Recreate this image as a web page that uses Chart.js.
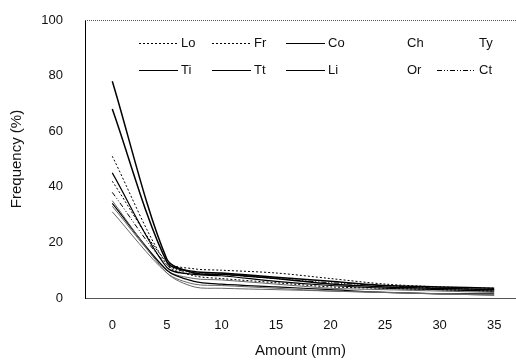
<!DOCTYPE html>
<html lang="en">
<head>
<meta charset="UTF-8">
<title>Frequency</title>
<script src="https://cdn.jsdelivr.net/npm/chart.js@4.4.1/dist/chart.umd.min.js"></script>
<style>
  body { margin: 0; background: #fff; }
  #wrap { width: 516px; height: 360px; }
</style>
</head>
<body>
<div id="wrap"><canvas id="myChart"></canvas></div>
<script>
// amounts (mm) where the curves have points
const amounts = [0, 5, 7.5, 10, 15, 20, 25, 30, 35];
const xTicks = [0, 5, 10, 15, 20, 25, 30, 35];
const yTicks = [0, 20, 40, 60, 80, 100];

const names = ["Lo", "Fr", "Co", "Ch", "Ty", "Ti", "Tt", "Li", "Or", "Ct"];
const lo = [51, 12, 8, 7, 5.5, 4, 3.5, 3, 2.5];
const fr = [42, 13, 10.5, 10, 9, 7, 5, 4, 3.5];
const co = [78, 14, 9, 8.5, 7, 5, 4, 3.5, 3];
const ch = [35, 9, 4, 3.5, 3, 2.5, 2, 1.5, 1];
const ty = [31, 9, 5, 4.5, 3.5, 2.5, 2, 1.5, 1];
const ti = [68, 13, 9.5, 9, 7.5, 6, 4.5, 4, 3.5];
const tt = [34, 10, 6, 5, 4, 3, 2, 1.5, 1.5];
const li = [45, 11, 8.5, 8, 6, 4.5, 3.5, 3, 2.5];
const or = [33, 10, 7, 6.5, 5, 3.5, 3, 2.5, 2];
const ct = [38, 12, 9, 8.5, 7, 5.5, 4.5, 3.5, 3];

const values = [lo, fr, co, ch, ty, ti, tt, li, or, ct];
const dashes = [[2,2], [2,2], [], [], [], [], [], [], [], [5,2,1,2,1,2]];
const colors = ["#000", "#000", "#000", "#666", "#666", "#000", "#000", "#000", "#666", "#000"];
const widths = [1, 1, 1.5, 1, 1, 1.5, 1.2, 1.2, 1, 1];
const hideSample = ["Ch", "Ty", "Or"];

const datasets = names.map(function(n, i) {
  return {
    label: n,
    data: amounts.map(function(a, j) { return {x: a, y: values[i][j]}; }),
    borderColor: colors[i],
    borderWidth: widths[i],
    borderDash: dashes[i],
    pointRadius: 0,
    tension: 0.3,
    fill: false,
    showLine: true
  };
});

// legend drawn inside the plot area, 5 columns x 2 rows
const insideLegend = {
  id: "insideLegend",
  afterDraw(chart) {
    const ctx = chart.ctx;
    const colX = [181, 254, 328, 407, 479];
    const rowY = [43, 70];
    ctx.save();
    ctx.font = "13px 'Liberation Sans', Arial, sans-serif";
    ctx.fillStyle = "#111";
    ctx.textBaseline = "middle";
    chart.data.datasets.forEach(function(ds, i) {
      const x = colX[i % 5], y = rowY[Math.floor(i / 5)];
      if (hideSample.indexOf(ds.label) < 0) {
        ctx.beginPath();
        ctx.setLineDash(ds.borderDash);
        ctx.lineWidth = 1;
        ctx.strokeStyle = "#000";
        ctx.moveTo(x - 42, y + 0.5);
        ctx.lineTo(x - 3, y + 0.5);
        ctx.stroke();
      }
      ctx.setLineDash([]);
      ctx.fillText(ds.label, x, y);
    });
    // dotted top edge of plot
    const a = chart.chartArea;
    ctx.beginPath();
    ctx.setLineDash([1, 1]);
    ctx.strokeStyle = "#555";
    ctx.moveTo(a.left, a.top + 0.5);
    ctx.lineTo(a.right, a.top + 0.5);
    ctx.stroke();
    ctx.restore();
  }
};

new Chart("myChart", {
  type: "scatter",
  data: { datasets: datasets },
  plugins: [insideLegend],
  options: {
    responsive: true,
    maintainAspectRatio: false,
    animation: false,
    layout: { padding: { top: 20, right: -4, left: 0, bottom: 0 } },
    plugins: { legend: { display: false }, tooltip: { enabled: false } },
    scales: {
      x: {
        type: "linear",
        min: -2.5,
        max: 37,
        afterBuildTicks: function(scale) { scale.ticks = xTicks.map(function(v) { return {value: v}; }); },
        afterFit: function(scale) { scale.height = 62; scale.paddingLeft = 0; scale.paddingRight = 0; },
        grid: { display: false, drawTicks: false },
        border: { display: true, color: "#555", dash: [1, 1] },
        ticks: { padding: 20, color: "#111", font: { family: "'Liberation Sans', Arial", size: 13 } },
        title: { display: true, text: "Amount (mm)", color: "#111", padding: { top: 4, bottom: 0 },
                 font: { family: "'Liberation Sans', Arial", size: 15 } }
      },
      y: {
        min: 0,
        max: 100,
        afterBuildTicks: function(scale) { scale.ticks = yTicks.map(function(v) { return {value: v}; }); },
        afterFit: function(scale) { scale.width = 85; scale.paddingTop = 0; scale.paddingBottom = 0; },
        grid: { display: false, drawTicks: false },
        border: { display: true, color: "#000", width: 1 },
        ticks: { padding: 22, color: "#111", font: { family: "'Liberation Sans', Arial", size: 13 } },
        title: { display: true, text: "Frequency (%)", color: "#111", padding: { top: 8, bottom: 4 },
                 font: { family: "'Liberation Sans', Arial", size: 15 } }
      }
    }
  }
});
</script>
</body>
</html>
